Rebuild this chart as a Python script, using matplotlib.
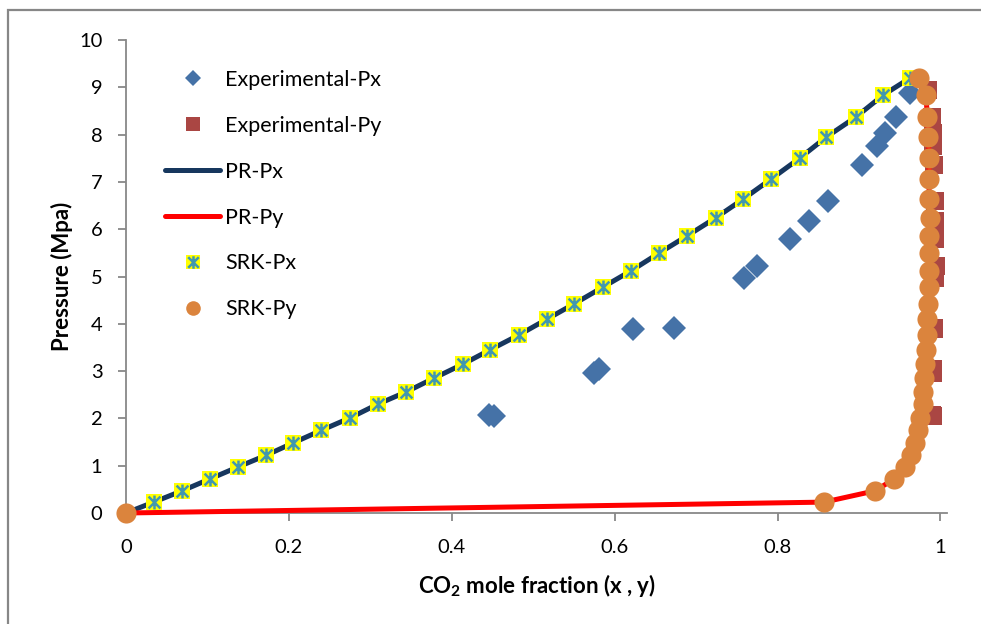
import matplotlib
matplotlib.use("Agg")
import matplotlib.pyplot as plt
from matplotlib.path import Path
from matplotlib.patches import Rectangle
from matplotlib.lines import Line2D

plt.rcParams['font.family'] = ['Lato', 'DejaVu Sans']
plt.rcParams['mathtext.fontset'] = 'custom'
plt.rcParams['mathtext.rm'] = 'Lato'
plt.rcParams['mathtext.bf'] = 'Lato:bold'

# ---- data ----
exp_px_x = [0.446, 0.452, 0.575, 0.581, 0.622, 0.673, 0.759, 0.775, 0.815, 0.839,
            0.862, 0.904, 0.922, 0.932, 0.945, 0.963]
exp_px_p = [2.07, 2.05, 2.96, 3.04, 3.89, 3.91, 4.97, 5.22, 5.79, 6.17,
            6.60, 7.36, 7.76, 8.03, 8.37, 8.88]

exp_py_y = [0.991, 0.990, 0.991, 0.991, 0.992, 0.992, 0.993, 0.994, 0.993, 0.993,
            0.993, 0.992, 0.991, 0.991, 0.989, 0.985]
exp_py_p = [2.05, 2.07, 2.96, 3.04, 3.89, 3.91, 4.97, 5.22, 5.79, 6.17,
            6.60, 7.36, 7.76, 8.03, 8.37, 8.95]

calc_p = [0.0, 0.23, 0.47, 0.72, 0.97, 1.22, 1.48, 1.75, 2.01, 2.30,
          2.56, 2.85, 3.15, 3.45, 3.76, 4.10, 4.42, 4.78, 5.12, 5.50,
          5.86, 6.24, 6.64, 7.06, 7.50, 7.95, 8.37, 8.84, 9.20]

pr_px_x = [0.0, 0.034, 0.069, 0.103, 0.137, 0.172, 0.205, 0.240, 0.275, 0.309,
           0.344, 0.378, 0.414, 0.447, 0.482, 0.517, 0.550, 0.586, 0.620, 0.655,
           0.689, 0.724, 0.758, 0.792, 0.827, 0.860, 0.896, 0.930, 0.963]
pr_py_y = [0.0, 0.857, 0.920, 0.943, 0.957, 0.964, 0.969, 0.973, 0.975, 0.978,
           0.979, 0.980, 0.981, 0.982, 0.983, 0.984, 0.985, 0.986, 0.986, 0.986,
           0.986, 0.987, 0.986, 0.986, 0.986, 0.985, 0.984, 0.982, 0.974]

srk_px_x = [0.0, 0.034, 0.069, 0.103, 0.137, 0.172, 0.205, 0.240, 0.275, 0.309,
            0.344, 0.378, 0.414, 0.447, 0.482, 0.517, 0.550, 0.586, 0.620, 0.655,
            0.689, 0.724, 0.758, 0.792, 0.827, 0.860, 0.896, 0.930, 0.963]
srk_py_y = [0.0, 0.857, 0.920, 0.943, 0.957, 0.964, 0.969, 0.973, 0.975, 0.978,
            0.979, 0.980, 0.981, 0.982, 0.983, 0.984, 0.985, 0.986, 0.986, 0.986,
            0.986, 0.987, 0.986, 0.986, 0.986, 0.985, 0.984, 0.982, 0.974]

x_ticks = [0, 0.2, 0.4, 0.6, 0.8, 1.0]
x_tick_labels = ['0', '0.2', '0.4', '0.6', '0.8', '1']
y_ticks = [0, 1, 2, 3, 4, 5, 6, 7, 8, 9, 10]
series_names = ['Experimental-Px', 'Experimental-Py', 'PR-Px', 'PR-Py', 'SRK-Px', 'SRK-Py']

# ---- figure ----
W, H = 981, 624
fig = plt.figure(figsize=(W / 100, H / 100), dpi=100)
ax = fig.add_axes([126 / W, (H - 513) / H, 821 / W, 473 / H])

# figure frame (chart area border)
fig.patches.append(Rectangle((8 / W, -0.05), 1.2, (H - 10) / H + 0.05,
                             transform=fig.transFigure, fill=False,
                             edgecolor='#878787', linewidth=1.6, zorder=0))

asterisk = Path([(0, -1), (0, 1), (-0.85, -0.85), (0.85, 0.85), (-0.85, 0.85), (0.85, -0.85)],
                [Path.MOVETO, Path.LINETO, Path.MOVETO, Path.LINETO, Path.MOVETO, Path.LINETO])

C_DIA, C_SQ, C_NAVY, C_RED, C_YEL, C_AST, C_ORG = (
    '#4572A7', '#AA4643', '#17375E', '#FF0000', '#FFFF00', '#4198AF', '#DB843D')

ax.plot(exp_px_x, exp_px_p, linestyle='none', marker='D', markersize=12.5,
        color=C_DIA, markeredgewidth=0, zorder=3)
ax.plot(exp_py_y, exp_py_p, linestyle='none', marker='s', markersize=12.5,
        color=C_SQ, markeredgewidth=0, zorder=3)
ax.plot(pr_px_x, calc_p, color=C_NAVY, linewidth=3.6, zorder=4, solid_capstyle='round')
ax.plot(pr_py_y, calc_p, color=C_RED, linewidth=3.6, zorder=4, solid_capstyle='round')
ax.plot(srk_px_x[1:], calc_p[1:], linestyle='none', marker='s', markersize=11,
        color=C_YEL, markeredgewidth=0, zorder=5)
ax.plot(srk_px_x[1:], calc_p[1:], linestyle='none', marker=asterisk, markersize=10,
        markeredgecolor=C_AST, markerfacecolor='none', markeredgewidth=1.8, zorder=6)
ax.plot(srk_py_y, calc_p, linestyle='none', marker='o', markersize=14.5,
        color=C_ORG, markeredgewidth=0, zorder=7)

ax.set_xlim(0, 1.008)
ax.set_ylim(0, 10)
ax.set_xticks(x_ticks)
ax.set_xticklabels(x_tick_labels)
ax.set_yticks(y_ticks)

for s in ['top', 'right']:
    ax.spines[s].set_visible(False)
for s in ['left', 'bottom']:
    ax.spines[s].set_color('#888888')
    ax.spines[s].set_linewidth(1.3)
ax.tick_params(axis='both', direction='out', length=6, width=1.3, color='#888888',
               labelsize=14.5, labelcolor='black')
ax.tick_params(axis='x', pad=13)
ax.tick_params(axis='y', pad=11)
for ln in ax.lines:
    ln.set_clip_on(False)

ax.set_xlabel(r'CO$_\mathbf{2}$ mole fraction (x , y)', fontsize=16, fontweight='bold',
              labelpad=11)
ax.set_ylabel('Pressure (Mpa)', fontsize=16, fontweight='bold', labelpad=4)

# legend proxies
lh1 = Line2D([], [], linestyle='none', marker='D', markersize=8, color=C_DIA, markeredgewidth=0)
lh2 = Line2D([], [], linestyle='none', marker='s', markersize=10.5, color=C_SQ, markeredgewidth=0)
lh3 = Line2D([], [], color=C_NAVY, linewidth=3.6, solid_capstyle='round')
lh4 = Line2D([], [], color=C_RED, linewidth=3.6, solid_capstyle='round')
lh5a = Line2D([], [], linestyle='none', marker='s', markersize=10, color=C_YEL, markeredgewidth=0)
lh5b = Line2D([], [], linestyle='none', marker=asterisk, markersize=9,
              markeredgecolor=C_AST, markerfacecolor='none', markeredgewidth=1.8)
lh6 = Line2D([], [], linestyle='none', marker='o', markersize=10.5, color=C_ORG, markeredgewidth=0)

leg = ax.legend([lh1, lh2, lh3, lh4, (lh5a, lh5b), lh6], series_names,
                loc='upper left', bbox_to_anchor=(39 / 821, 1 - 30 / 473),
                frameon=False, fontsize=15.5, labelspacing=1.2, handlelength=2.56,
                handletextpad=0.23, borderaxespad=0, borderpad=0, markerscale=1)

fig.savefig('out.png', dpi=100, facecolor='white')
